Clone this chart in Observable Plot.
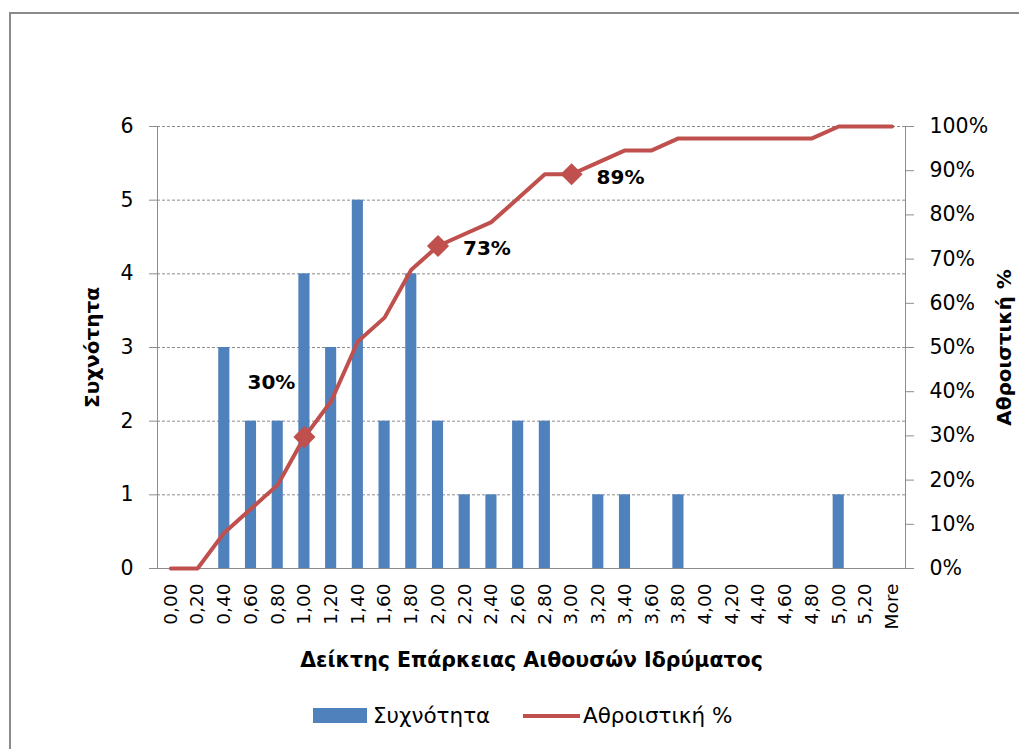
<!DOCTYPE html>
<html><head><meta charset="utf-8">
<script src="https://cdn.jsdelivr.net/npm/d3@7"></script>
<script src="https://cdn.jsdelivr.net/npm/@observablehq/plot@0.6"></script>
<style>
html,body{margin:0;padding:0}
body{width:1019px;height:749px;overflow:hidden;background:#fff;font-family:"DejaVu Sans",sans-serif;position:relative}
#frame{position:absolute;left:9px;top:12px;width:1100px;height:800px;border:2px solid #8a8a8a;box-sizing:border-box}
#chart{position:absolute;left:0;top:0}
#legend{position:absolute;top:704px;left:0;width:1019px;height:24px;font-size:21.5px;color:#000}
.sw{position:absolute}
.lt{position:absolute;top:0;line-height:24px;white-space:nowrap}
</style></head><body>
<div id="frame"></div>
<div id="chart"></div>
<div id="legend">
  <div class="sw" style="left:313px;top:4px;width:54px;height:15px;background:#4F81BD"></div>
  <div class="lt" style="left:373px">Συχνότητα</div>
  <div class="sw" style="left:523px;top:10px;width:57px;height:4px;background:#C0504D"></div>
  <div class="lt" style="left:583px">Αθροιστική %</div>
</div>
<script>
const categories = ["0,00","0,20","0,40","0,60","0,80","1,00","1,20","1,40","1,60","1,80","2,00","2,20","2,40","2,60","2,80","3,00","3,20","3,40","3,60","3,80","4,00","4,20","4,40","4,60","4,80","5,00","5,20","More"];
const frequency = [0,0,3,2,2,4,3,5,2,4,2,1,1,2,2,0,1,1,0,1,0,0,0,0,0,1,0,0];
const cumulativePct = [0,0,8.11,13.51,18.92,29.73,37.84,51.35,56.76,67.57,72.97,75.68,78.38,83.78,89.19,89.19,91.89,94.59,94.59,97.30,97.30,97.30,97.30,97.30,97.30,100,100,100];
const freqTicks = [0,1,2,3,4,5,6];
const pctTicks = [0,10,20,30,40,50,60,70,80,90,100];
const labelCats = ["1,00","2,00","3,00"];
const labelPct = [30,73,89];
const xTitle = "Δείκτης Επάρκειας Αιθουσών Ιδρύματος";
const yTitle = "Συχνότητα";
const y2Title = "Αθροιστική %";

const FMAX = 6;
const toY = p => p * FMAX / 100;
const rows = categories.map((c, i) => ({cat: c, freq: frequency[i], pct: cumulativePct[i]}));
const marks = labelCats.map((c, i) => ({cat: c, pct: cumulativePct[categories.indexOf(c)], label: labelPct[i] + "%"}));

const chart = Plot.plot({
  width: 1019, height: 700,
  marginTop: 126, marginBottom: 132, marginLeft: 157, marginRight: 114,
  style: {fontFamily: "DejaVu Sans, sans-serif", fontSize: "20.5px", color: "#000", background: "transparent", overflow: "visible"},
  x: {type: "band", domain: categories, padding: 0, align: 0.5, round: false},
  y: {domain: [0, FMAX]},
  marks: [
    Plot.gridY(freqTicks, {stroke: "#8c8c8c", strokeOpacity: 1, strokeDasharray: "3,2"}),
    Plot.barY(rows, {x: "cat", y: "freq", fill: "#4F81BD", insetLeft: 7.8, insetRight: 7.8}),
    Plot.frame({anchor: "left", stroke: "#8c8c8c"}),
    Plot.frame({anchor: "right", stroke: "#8c8c8c"}),
    Plot.ruleY([0], {stroke: "#8c8c8c"}),
    Plot.axisY(freqTicks, {anchor: "left", tickSize: 8, tickPadding: 16, stroke: "#8c8c8c", tickFormat: d => String(d), label: null}),
    Plot.axisY(pctTicks.map(toY), {anchor: "right", tickSize: 8, tickPadding: 16, stroke: "#8c8c8c", tickFormat: d => Math.round(d / FMAX * 100) + "%", label: null}),
    Plot.axisX({tickRotate: -90, tickSize: 0, tickPadding: 15, label: null, fontSize: "18.5px"}),
    Plot.line(rows, {x: "cat", y: d => toY(d.pct), stroke: "#C0504D", strokeWidth: 4, strokeLinejoin: "round"}),
    Plot.dot(marks, {x: "cat", y: d => toY(d.pct), symbol: "diamond2", r: 9, fill: "#C0504D", stroke: "#C0504D"}),
    Plot.text(marks.slice(0, 1), {x: "cat", y: d => toY(d.pct), text: "label", dx: -33, dy: -54, fontWeight: "bold", fontSize: 20}),
    Plot.text(marks.slice(1), {x: "cat", y: d => toY(d.pct), text: "label", dx: 25, dy: 3, textAnchor: "start", fontWeight: "bold", fontSize: 20}),
    Plot.text([xTitle], {frameAnchor: "bottom", dy: 98, fontWeight: "bold", fontSize: 20.5}),
    Plot.text([yTitle], {frameAnchor: "left", textAnchor: "middle", dx: -65, rotate: -90, fontWeight: "bold", fontSize: 20}),
    Plot.text([y2Title], {frameAnchor: "right", textAnchor: "middle", dx: 99, rotate: -90, fontWeight: "bold", fontSize: 20})
  ]
});
document.getElementById("chart").appendChild(chart);
</script>
</body></html>
